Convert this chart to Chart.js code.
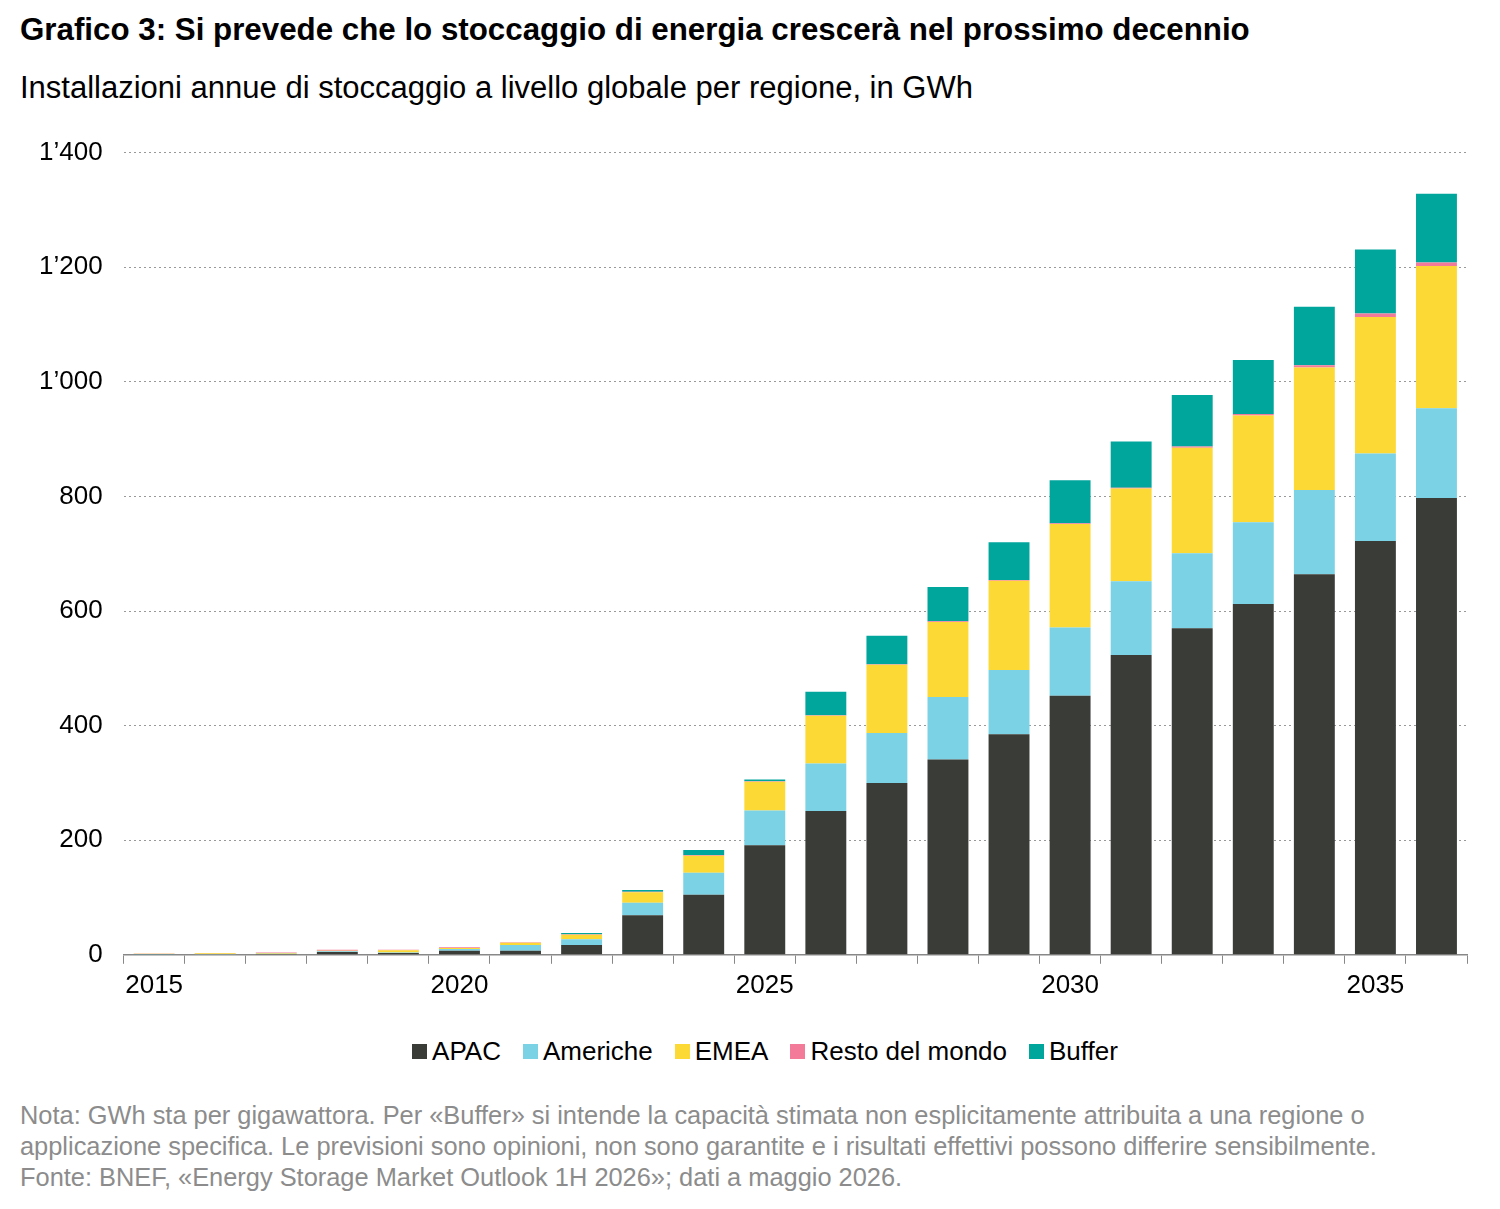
<!DOCTYPE html>
<html>
<head>
<meta charset="utf-8">
<script src="https://cdn.jsdelivr.net/npm/chart.js@4.4.1/dist/chart.umd.min.js"></script>
<style>
  body { margin: 0; background: #fff; font-family: "Liberation Sans", Arial, sans-serif; }
  #title { position: absolute; left: 20px; top: 12px; font-size: 31.3px; font-weight: bold; color: #000; }
  #subtitle { position: absolute; left: 20px; top: 70px; font-size: 31px; color: #000; }
  #wrap { position: absolute; left: 0; top: 116px; width: 1500px; height: 891px; }
  #legend { position: absolute; left: 0; top: 1035px; width: 1530px; display: flex; justify-content: center;
            font-size: 26px; color: #000; line-height: 32px; }
  #legend span.item { display: flex; align-items: center; margin: 0 11px; }
  #legend span.box { display: inline-block; width: 15px; height: 15px; margin-right: 5px; }
  #note { position: absolute; left: 20px; top: 1100px; font-size: 25.4px; line-height: 31px; color: #8c8c8c; }
</style>
</head>
<body>
<div id="title">Grafico 3: Si prevede che lo stoccaggio di energia crescerà nel prossimo decennio</div>
<div id="subtitle">Installazioni annue di stoccaggio a livello globale per regione, in GWh</div>
<div id="wrap"><canvas id="chart"></canvas></div>
<div id="legend"></div>
<div id="note">Nota: GWh sta per gigawattora. Per «Buffer» si intende la capacità stimata non esplicitamente attribuita a una regione o<br>applicazione specifica. Le previsioni sono opinioni, non sono garantite e i risultati effettivi possono differire sensibilmente.<br>Fonte: BNEF, «Energy Storage Market Outlook 1H 2026»; dati a maggio 2026.</div>
<script>
const years = ["2015","2016","2017","2018","2019","2020","2021","2022","2023","2024","2025",
               "2026","2027","2028","2029","2030","2031","2032","2033","2034","2035","2036"];
const apac     = [0.5, 1, 1.5, 5, 3, 7, 7, 17, 69, 105, 191, 251, 300, 341, 385, 452, 523, 570, 612, 664, 722, 797];
const americhe = [1, 0.5, 0.5, 1, 1, 3, 10, 10, 22, 38, 61, 83, 87, 109, 112, 119, 129, 131, 143, 147, 153, 157];
const emea     = [0.5, 1, 1, 1, 4, 2, 4, 8, 18, 30, 50, 83, 119, 131, 156, 181, 162, 184, 186, 214, 238, 248];
const resto    = [0.3, 0.5, 1, 2, 1, 1, 1, 1, 1, 1, 1, 1, 1, 1, 1, 1, 1, 2, 3, 4, 6, 6];
const buffer   = [0, 0, 0, 0, 0, 0, 0, 2, 3, 9, 3, 41, 50, 60, 66, 75, 81, 90, 94, 102, 112, 120];
const yTicks = [0, 200, 400, 600, 800, 1000, 1200, 1400];

const fontFam = '"Liberation Sans", Arial, sans-serif';

function makeSet(label, data, color) {
    return {
        label: label,
        data: data,
        backgroundColor: color,
        borderWidth: 0,
        barPercentage: 0.67,
        categoryPercentage: 1.0
    };
}

const chart = new Chart(document.getElementById("chart"), {
    type: "bar",
    data: {
        labels: years,
        datasets: [
            makeSet("APAC", apac, "#3a3c38"),
            makeSet("Americhe", americhe, "#7ad2e4"),
            makeSet("EMEA", emea, "#fdd935"),
            makeSet("Resto del mondo", resto, "#f47a9a"),
            makeSet("Buffer", buffer, "#00a59c")
        ]
    },
    options: {
        responsive: true,
        maintainAspectRatio: false,
        animation: false,
        layout: { padding: { left: 18, right: 33, top: 1, bottom: 0 } },
        plugins: {
            legend: { display: false },
            tooltip: { enabled: false }
        },
        scales: {
            x: {
                stacked: true,
                border: { display: true, color: "#888", width: 1.5 },
                grid: { display: true, offset: true, drawOnChartArea: false, drawTicks: true, tickLength: 9, color: "#888" },
                ticks: {
                    autoSkip: false,
                    maxRotation: 0,
                    padding: 6,
                    color: "#000",
                    font: { family: fontFam, size: 26 },
                    callback: function (v, i) {
                        const y = Number(years[i]);
                        return y % 5 === 0 ? years[i] : "";
                    }
                }
            },
            y: {
                stacked: true,
                min: 0,
                max: 1400,
                afterBuildTicks: function (axis) {
                    axis.ticks = yTicks.map(v => ({ value: v }));
                },
                border: { display: false, dash: [2, 3] },
                grid: { color: "#999", lineWidth: 1, drawTicks: false },
                ticks: {
                    padding: 21,
                    color: "#000",
                    font: { family: fontFam, size: 26 },
                    callback: function (v) {
                        return String(v).replace(/\B(?=(\d{3})+(?!\d))/g, "’");
                    }
                }
            }
        }
    }
});

// legend in html so the box/text gap can match the original
const legendEl = document.getElementById("legend");
for (let ds of chart.data.datasets) {
    const item = document.createElement("span");
    item.className = "item";
    const box = document.createElement("span");
    box.className = "box";
    box.style.background = ds.backgroundColor;
    item.appendChild(box);
    item.appendChild(document.createTextNode(ds.label));
    legendEl.appendChild(item);
}
</script>
</body>
</html>
